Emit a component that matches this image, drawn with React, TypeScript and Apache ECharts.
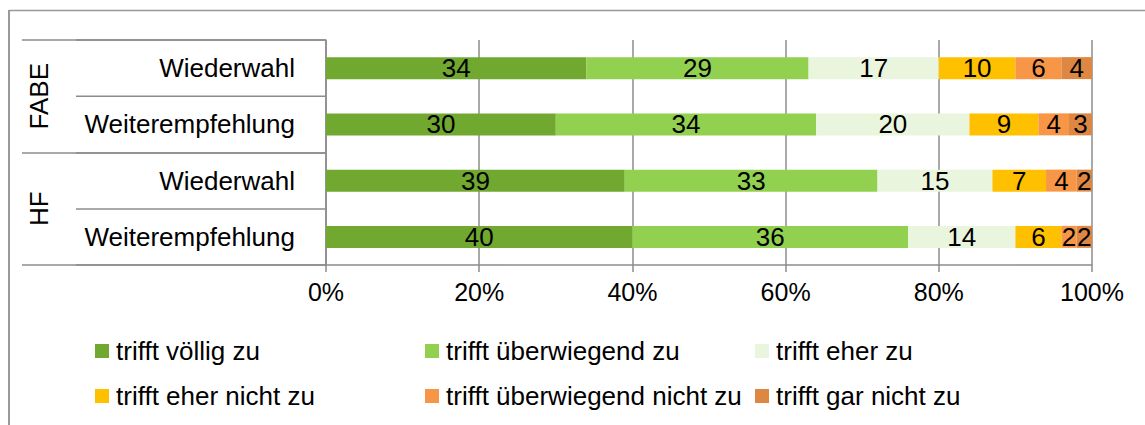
import React, { useEffect, useRef } from "react";
import * as echarts from "echarts";

const groups = ["FABE", "HF"];
const categories = ["Wiederwahl", "Weiterempfehlung", "Wiederwahl", "Weiterempfehlung"];
const categoryKeys = ["FABE-Wiederwahl", "FABE-Weiterempfehlung", "HF-Wiederwahl", "HF-Weiterempfehlung"];

const seriesNames = [
  "trifft völlig zu",
  "trifft überwiegend zu",
  "trifft eher zu",
  "trifft eher nicht zu",
  "trifft überwiegend nicht zu",
  "trifft gar nicht zu",
];
const trifftVoellig = [34, 30, 39, 40];
const trifftUeberwiegend = [29, 34, 33, 36];
const trifftEher = [17, 20, 15, 14];
const trifftEherNicht = [10, 9, 7, 6];
const trifftUeberwiegendNicht = [6, 4, 4, 2];
const trifftGarNicht = [4, 3, 2, 2];
const seriesValues = [trifftVoellig, trifftUeberwiegend, trifftEher, trifftEherNicht, trifftUeberwiegendNicht, trifftGarNicht];
const colors = ["#70A830", "#92D050", "#EAF5DE", "#FFC000", "#F79646", "#DD8743"];

const FONT = "'Liberation Sans', Arial, sans-serif";
const GRAY = "#8c8c8c";
const FS = 26;

const legendPos = [
  { left: 95, top: 337 },
  { left: 425, top: 337 },
  { left: 755, top: 337 },
  { left: 95, top: 382 },
  { left: 425, top: 382 },
  { left: 755, top: 382 },
];

export default function App() {
  const ref = useRef<HTMLDivElement>(null);
  useEffect(() => {
    if (!ref.current) return;
    const chart = echarts.init(ref.current, undefined, { renderer: "svg" });
    chart.setOption({
      animation: false,
      textStyle: { fontFamily: FONT },
      grid: { left: 326, right: 53, top: 40, bottom: 160, containLabel: false },
      xAxis: {
        type: "value",
        min: 0,
        max: 100,
        interval: 20,
        axisLine: { show: true, lineStyle: { color: GRAY, width: 1.5 } },
        axisTick: { show: true, length: 7, lineStyle: { color: GRAY, width: 1.5 } },
        splitLine: { show: true, lineStyle: { color: GRAY, width: 1.5 } },
        axisLabel: { formatter: "{value}%", fontSize: 25, color: "#000", margin: 14, fontFamily: FONT },
      },
      yAxis: [
        {
          type: "category",
          inverse: true,
          data: categoryKeys,
          axisLine: { show: true, lineStyle: { color: GRAY, width: 1.5 } },
          axisTick: { show: true, length: 250, interval: 0, lineStyle: { color: GRAY, width: 1.5 } },
          axisLabel: {
            margin: 31,
            fontSize: FS,
            color: "#000",
            fontFamily: FONT,
            interval: 0,
            formatter: (_v: string, i: number) => categories[i],
          },
          splitLine: { show: false },
        },
        {
          type: "category",
          inverse: true,
          data: groups,
          position: "left",
          axisLine: { show: false },
          axisTick: { show: true, length: 304, interval: 0, lineStyle: { color: GRAY, width: 1.5 } },
          axisLabel: { rotate: 90, margin: 274, fontSize: FS, color: "#000", fontFamily: FONT, interval: 0 },
          splitLine: { show: false },
        },
      ],
      legend: seriesNames.map((n, i) => ({
        data: [n],
        left: legendPos[i].left,
        top: legendPos[i].top,
        padding: 0,
        itemGap: 0,
        icon: "rect",
        itemWidth: 14,
        itemHeight: 14,
        selectedMode: false,
        textStyle: { fontSize: FS, color: "#000", fontFamily: FONT, lineHeight: 28, padding: [0, 0, 0, 2] },
      })),
      graphic: [
        { type: "line", shape: { x1: 9, y1: 10, x2: 9, y2: 425 }, style: { stroke: "#999", lineWidth: 2 } },
        { type: "line", shape: { x1: 9, y1: 10.5, x2: 1145, y2: 10.5 }, style: { stroke: "#999", lineWidth: 1.5 } },
      ],
      series: seriesNames.map((n, i) => ({
        name: n,
        type: "bar",
        stack: "total",
        yAxisIndex: 0,
        barWidth: 22,
        itemStyle: { color: colors[i] },
        label: {
          show: true,
          position: "inside",
          color: "#000",
          fontSize: FS,
          fontFamily: FONT,
          textBorderWidth: 0,
        },
        data: seriesValues[i],
      })),
    });
    return () => chart.dispose();
  }, []);
  return <div ref={ref} style={{ position: "absolute", left: 0, top: 0, width: 1145, height: 425 }} />;
}
